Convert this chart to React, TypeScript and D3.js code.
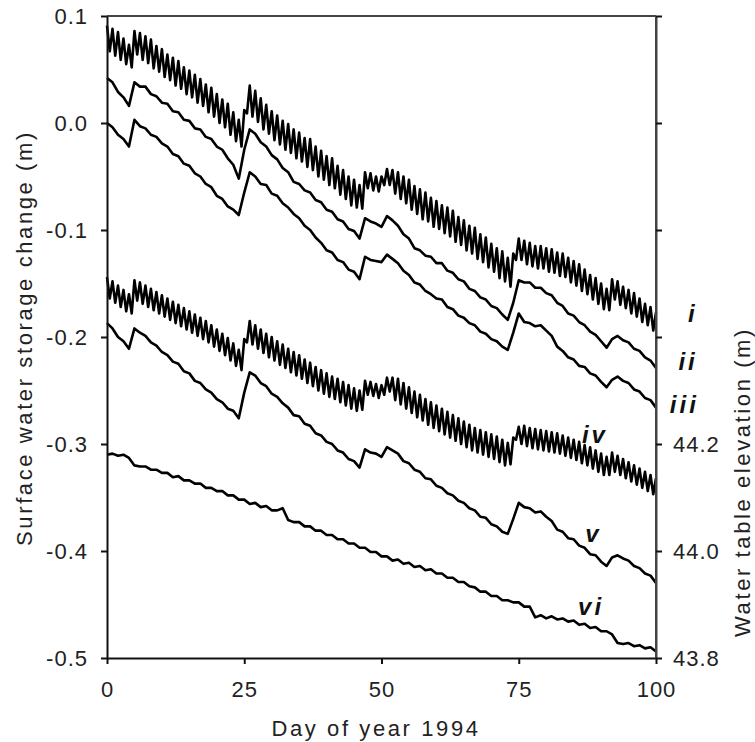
import React, { useEffect, useRef } from 'react';
import * as d3 from 'd3';

const W = 755;
const H = 742;
const margin = { top: 16, right: 99, bottom: 84, left: 107 };

const xTicks = [0, 25, 50, 75, 100];
const yTicks = [-0.5, -0.4, -0.3, -0.2, -0.1, 0.0, 0.1];
const rightTicks = [43.8, 44.0, 44.2, 44.4, 44.6, 44.8, 45.0];
const rightTickLabels = [43.8, 44.0, 44.2];

// i and iv swing every day: highs at whole days 0..100, lows at half days 0.5..99.5
const iHigh = [
  0.091, 0.088, 0.085, 0.079, 0.073, 0.086, 0.084, 0.081, 0.078, 0.072,
  0.069, 0.064, 0.061, 0.058, 0.052, 0.049, 0.045, 0.041, 0.036, 0.033,
  0.027, 0.022, 0.018, 0.010, 0.003, 0.012, 0.035, 0.030, 0.023, 0.017,
  0.011, 0.007, 0.002, -0.001, -0.006, -0.009, -0.014, -0.015, -0.022, -0.026,
  -0.031, -0.033, -0.040, -0.044, -0.050, -0.053, -0.058, -0.046, -0.047, -0.050,
  -0.050, -0.043, -0.044, -0.046, -0.050, -0.053, -0.059, -0.062, -0.065, -0.070,
  -0.073, -0.077, -0.079, -0.082, -0.088, -0.091, -0.096, -0.098, -0.104, -0.107,
  -0.113, -0.117, -0.120, -0.126, -0.122, -0.108, -0.110, -0.112, -0.115, -0.115,
  -0.117, -0.118, -0.121, -0.122, -0.126, -0.129, -0.132, -0.137, -0.142, -0.145,
  -0.150, -0.155, -0.146, -0.148, -0.153, -0.156, -0.159, -0.164, -0.169, -0.172,
  -0.177,
];
const iLow = [
  0.067, 0.063, 0.059, 0.055, 0.052, 0.064, 0.059, 0.056, 0.051, 0.048,
  0.043, 0.040, 0.035, 0.032, 0.027, 0.024, 0.019, 0.016, 0.010, 0.006,
  0.000, -0.004, -0.011, -0.017, -0.022, 0.009, 0.006, 0.001, -0.006, -0.010,
  -0.016, -0.020, -0.025, -0.028, -0.033, -0.036, -0.041, -0.044, -0.050, -0.053,
  -0.058, -0.061, -0.067, -0.071, -0.077, -0.079, -0.080, -0.061, -0.063, -0.064,
  -0.058, -0.058, -0.066, -0.071, -0.075, -0.081, -0.085, -0.090, -0.092, -0.097,
  -0.099, -0.103, -0.106, -0.111, -0.114, -0.119, -0.122, -0.127, -0.130, -0.135,
  -0.139, -0.145, -0.148, -0.153, -0.128, -0.128, -0.132, -0.134, -0.136, -0.136,
  -0.139, -0.140, -0.143, -0.144, -0.149, -0.152, -0.157, -0.160, -0.165, -0.169,
  -0.174, -0.175, -0.165, -0.170, -0.173, -0.178, -0.181, -0.186, -0.189, -0.194,
];
const ivHigh = [
  -0.144, -0.148, -0.152, -0.156, -0.160, -0.147, -0.149, -0.152, -0.155, -0.158,
  -0.161, -0.164, -0.167, -0.170, -0.173, -0.176, -0.179, -0.182, -0.185, -0.189,
  -0.193, -0.197, -0.201, -0.206, -0.212, -0.202, -0.185, -0.189, -0.193, -0.197,
  -0.200, -0.204, -0.207, -0.211, -0.214, -0.217, -0.221, -0.224, -0.228, -0.231,
  -0.234, -0.237, -0.239, -0.242, -0.245, -0.248, -0.250, -0.241, -0.242, -0.244,
  -0.245, -0.238, -0.238, -0.239, -0.243, -0.247, -0.251, -0.254, -0.258, -0.261,
  -0.264, -0.267, -0.270, -0.273, -0.276, -0.279, -0.282, -0.285, -0.287, -0.289,
  -0.291, -0.293, -0.296, -0.299, -0.294, -0.284, -0.283, -0.285, -0.286, -0.287,
  -0.288, -0.289, -0.290, -0.292, -0.294, -0.296, -0.298, -0.301, -0.303, -0.306,
  -0.309, -0.312, -0.308, -0.311, -0.314, -0.317, -0.320, -0.323, -0.326, -0.329,
  -0.332,
];
const ivLow = [
  -0.164, -0.168, -0.172, -0.176, -0.178, -0.166, -0.169, -0.172, -0.175, -0.178,
  -0.181, -0.184, -0.187, -0.190, -0.193, -0.196, -0.199, -0.202, -0.205, -0.209,
  -0.213, -0.217, -0.222, -0.227, -0.231, -0.205, -0.207, -0.211, -0.215, -0.219,
  -0.222, -0.226, -0.229, -0.233, -0.236, -0.239, -0.243, -0.246, -0.250, -0.253,
  -0.256, -0.258, -0.261, -0.264, -0.267, -0.269, -0.268, -0.254, -0.255, -0.257,
  -0.254, -0.251, -0.259, -0.263, -0.267, -0.271, -0.275, -0.278, -0.282, -0.285,
  -0.288, -0.291, -0.294, -0.297, -0.300, -0.303, -0.306, -0.308, -0.310, -0.312,
  -0.314, -0.317, -0.320, -0.319, -0.296, -0.300, -0.302, -0.304, -0.305, -0.306,
  -0.307, -0.308, -0.309, -0.311, -0.313, -0.315, -0.318, -0.320, -0.323, -0.326,
  -0.329, -0.329, -0.326, -0.329, -0.332, -0.335, -0.338, -0.341, -0.344, -0.347,
];

// the other four, one value per day 0..100
const ii = [
  0.042, 0.038, 0.029, 0.024, 0.016, 0.038, 0.034, 0.034, 0.027, 0.025,
  0.019, 0.018, 0.011, 0.010, 0.003, 0.002, -0.005, -0.006, -0.013, -0.015,
  -0.022, -0.025, -0.033, -0.039, -0.052, -0.025, -0.006, -0.010, -0.018, -0.022,
  -0.030, -0.034, -0.042, -0.046, -0.055, -0.057, -0.063, -0.065, -0.072, -0.074,
  -0.081, -0.083, -0.090, -0.092, -0.099, -0.101, -0.108, -0.089, -0.092, -0.094,
  -0.097, -0.087, -0.091, -0.096, -0.104, -0.108, -0.117, -0.119, -0.124, -0.125,
  -0.131, -0.131, -0.138, -0.140, -0.146, -0.148, -0.155, -0.157, -0.163, -0.165,
  -0.171, -0.173, -0.179, -0.184, -0.168, -0.147, -0.149, -0.149, -0.154, -0.154,
  -0.159, -0.161, -0.168, -0.171, -0.178, -0.180, -0.186, -0.189, -0.195, -0.198,
  -0.204, -0.210, -0.202, -0.199, -0.203, -0.205, -0.211, -0.213, -0.219, -0.222,
  -0.229,
];
const iii = [
  0.000, -0.004, -0.011, -0.015, -0.022, 0.003, -0.003, -0.005, -0.011, -0.013,
  -0.019, -0.022, -0.029, -0.031, -0.038, -0.040, -0.047, -0.050, -0.057, -0.060,
  -0.068, -0.071, -0.078, -0.081, -0.086, -0.065, -0.046, -0.050, -0.057, -0.058,
  -0.066, -0.068, -0.075, -0.079, -0.085, -0.089, -0.096, -0.100, -0.107, -0.112,
  -0.119, -0.121, -0.128, -0.130, -0.137, -0.139, -0.146, -0.125, -0.128, -0.129,
  -0.130, -0.123, -0.127, -0.131, -0.138, -0.142, -0.149, -0.151, -0.157, -0.160,
  -0.164, -0.165, -0.172, -0.174, -0.180, -0.182, -0.187, -0.189, -0.195, -0.197,
  -0.202, -0.204, -0.209, -0.212, -0.196, -0.178, -0.186, -0.187, -0.190, -0.189,
  -0.194, -0.199, -0.209, -0.213, -0.219, -0.221, -0.227, -0.228, -0.234, -0.236,
  -0.242, -0.247, -0.240, -0.237, -0.241, -0.243, -0.249, -0.251, -0.257, -0.259,
  -0.266,
];
const v = [
  -0.187, -0.192, -0.200, -0.204, -0.211, -0.192, -0.196, -0.199, -0.205, -0.208,
  -0.214, -0.217, -0.223, -0.225, -0.232, -0.234, -0.241, -0.243, -0.249, -0.252,
  -0.258, -0.261, -0.267, -0.269, -0.276, -0.252, -0.233, -0.236, -0.243, -0.246,
  -0.253, -0.256, -0.262, -0.266, -0.273, -0.274, -0.281, -0.283, -0.290, -0.292,
  -0.298, -0.300, -0.306, -0.308, -0.314, -0.316, -0.322, -0.305, -0.308, -0.309,
  -0.312, -0.303, -0.306, -0.309, -0.316, -0.318, -0.324, -0.326, -0.332, -0.333,
  -0.339, -0.341, -0.346, -0.348, -0.353, -0.355, -0.360, -0.362, -0.368, -0.369,
  -0.375, -0.377, -0.382, -0.384, -0.370, -0.355, -0.359, -0.360, -0.364, -0.363,
  -0.368, -0.372, -0.380, -0.382, -0.388, -0.389, -0.395, -0.397, -0.403, -0.404,
  -0.410, -0.414, -0.406, -0.404, -0.407, -0.409, -0.414, -0.416, -0.421, -0.423,
  -0.430,
];
const vi = [
  -0.310, -0.309, -0.311, -0.310, -0.313, -0.320, -0.321, -0.321, -0.324, -0.324,
  -0.327, -0.327, -0.331, -0.330, -0.334, -0.334, -0.337, -0.337, -0.341, -0.341,
  -0.344, -0.344, -0.348, -0.348, -0.352, -0.352, -0.356, -0.355, -0.359, -0.358,
  -0.362, -0.362, -0.360, -0.371, -0.373, -0.373, -0.377, -0.377, -0.381, -0.381,
  -0.385, -0.385, -0.389, -0.389, -0.393, -0.393, -0.397, -0.397, -0.401, -0.401,
  -0.405, -0.405, -0.409, -0.408, -0.412, -0.411, -0.415, -0.414, -0.418, -0.417,
  -0.421, -0.421, -0.425, -0.425, -0.429, -0.429, -0.433, -0.434, -0.438, -0.438,
  -0.442, -0.442, -0.446, -0.446, -0.448, -0.448, -0.452, -0.452, -0.462, -0.460,
  -0.463, -0.461, -0.464, -0.463, -0.466, -0.465, -0.469, -0.468, -0.472, -0.471,
  -0.475, -0.475, -0.478, -0.486, -0.487, -0.486, -0.489, -0.488, -0.491, -0.490,
  -0.494,
];

const seriesNames = ['i', 'ii', 'iii', 'iv', 'v', 'vi'];

// where each roman numeral sits, in data units (day, storage change)
const labelPos = [
  { name: 'i', day: 107.6, val: -0.186, anchor: 'end' },
  { name: 'ii', day: 107.6, val: -0.231, anchor: 'end' },
  { name: 'iii', day: 107.8, val: -0.271, anchor: 'end' },
  { name: 'iv', day: 86.5, val: -0.299, anchor: 'start' },
  { name: 'v', day: 87.1, val: -0.392, anchor: 'start' },
  { name: 'vi', day: 85.8, val: -0.46, anchor: 'start' },
];

const FONT = "'Liberation Sans', Arial, Helvetica, sans-serif";

const interleave = (high: number[], low: number[]) => {
  const pts: [number, number][] = [];
  high.forEach((h, k) => {
    pts.push([k, h]);
    if (k < low.length) pts.push([k + 0.5, low[k]]);
  });
  return pts;
};
const daily = (vals: number[]) => vals.map((val, k) => [k, val] as [number, number]);

const App = () => {
  const svgRef = useRef<SVGSVGElement>(null);

  useEffect(() => {
    const svg = d3.select(svgRef.current);
    svg.selectAll('*').remove();

    const x0 = margin.left;
    const x1 = W - margin.right;
    const y0 = H - margin.bottom;
    const y1 = margin.top;

    const x = d3.scaleLinear().domain([0, 100]).range([x0, x1]);
    const y = d3.scaleLinear().domain([-0.5, 0.1]).range([y0, y1]);
    const yR = d3.scaleLinear().domain([43.8, 45.0]).range([y0, y1]);

    const series: [number, number][][] = [
      interleave(iHigh, iLow),
      daily(ii),
      daily(iii),
      interleave(ivHigh, ivLow),
      daily(v),
      daily(vi),
    ];

    const line = d3.line<[number, number]>()
      .x(d => x(d[0]))
      .y(d => y(d[1]));

    svg.append('g')
      .selectAll('path')
      .data(series)
      .enter().append('path')
      .attr('class', (_, i) => 'series-' + seriesNames[i])
      .attr('d', d => line(d))
      .attr('fill', 'none')
      .attr('stroke', '#000')
      .attr('stroke-width', 2.6)
      .attr('stroke-linejoin', 'round');

    // frame top and right
    svg.append('line')
      .attr('x1', x0).attr('x2', x1).attr('y1', y1).attr('y2', y1)
      .attr('stroke', '#444').attr('stroke-width', 2);
    svg.append('line')
      .attr('x1', x1).attr('x2', x1).attr('y1', y1).attr('y2', y0)
      .attr('stroke', '#444').attr('stroke-width', 2);

    const styleAxis = (g: any) => {
      g.select('.domain').attr('stroke', '#111').attr('stroke-width', 2);
      g.selectAll('.tick line').attr('stroke', '#111').attr('stroke-width', 2);
      g.selectAll('.tick text')
        .attr('fill', '#222')
        .style('font-family', FONT)
        .style('font-size', '22px')
        .style('letter-spacing', '1px');
    };

    svg.append('g')
      .attr('transform', `translate(0,${y0})`)
      .call(d3.axisBottom(x).tickValues(xTicks).tickSize(6).tickSizeOuter(0).tickPadding(17)
        .tickFormat(d => String(d)))
      .call(styleAxis);

    svg.append('g')
      .attr('transform', `translate(${x0},0)`)
      .call(d3.axisLeft(y).tickValues(yTicks).tickSize(6).tickSizeOuter(0).tickPadding(13)
        .tickFormat(d => (+d).toFixed(1)))
      .call(styleAxis);

    const right = svg.append('g')
      .attr('transform', `translate(${x1},0)`)
      .call(d3.axisRight(yR).tickValues(rightTicks).tickSize(6).tickSizeOuter(0).tickPadding(11)
        .tickFormat(d => (rightTickLabels.includes(+d) ? (+d).toFixed(1) : '')))
      .call(styleAxis);
    right.select('.domain').attr('stroke', '#444');

    const title = (sel: any) => sel
      .attr('fill', '#222')
      .style('font-family', FONT)
      .style('font-size', '22px')
      .style('letter-spacing', '2.6px');

    svg.append('text')
      .attr('x', 376)
      .attr('y', 736)
      .attr('text-anchor', 'middle')
      .text('Day of year 1994')
      .call(title);

    svg.append('text')
      .attr('transform', 'translate(32,338) rotate(-90)')
      .attr('text-anchor', 'middle')
      .text('Surface water storage change (m)')
      .call(title);

    svg.append('text')
      .attr('transform', 'translate(750,482) rotate(-90)')
      .attr('text-anchor', 'middle')
      .text('Water table elevation (m)')
      .call(title);

    svg.append('g')
      .selectAll('text')
      .data(labelPos)
      .enter().append('text')
      .attr('x', d => x(d.day))
      .attr('y', d => y(d.val))
      .attr('text-anchor', d => d.anchor)
      .attr('fill', '#111')
      .style('font-family', FONT)
      .style('font-size', '24px')
      .style('font-weight', 'bold')
      .style('font-style', 'italic')
      .style('letter-spacing', '3px')
      .text(d => d.name);
  }, []);

  return (
    <svg
      ref={svgRef}
      width={W}
      height={H}
      style={{ position: 'absolute', left: 0, top: 0, background: '#fff' }}
    />
  );
};

export default App;
